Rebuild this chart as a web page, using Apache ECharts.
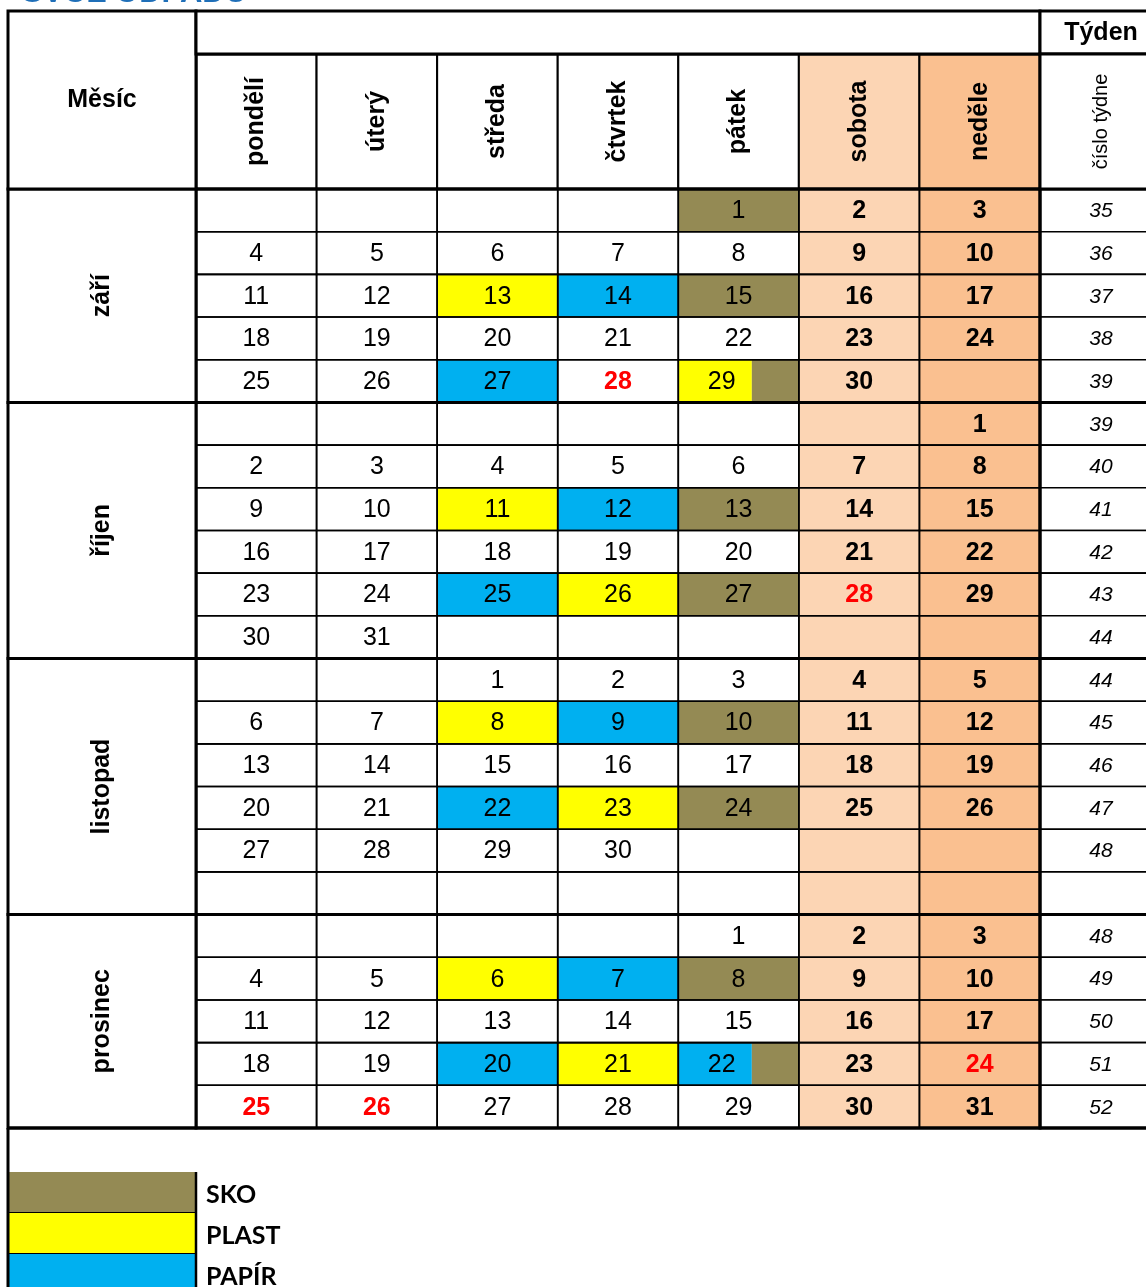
<!DOCTYPE html>
<html><head><meta charset="utf-8">
<script src="https://cdn.jsdelivr.net/npm/echarts@6/dist/echarts.min.js"></script>
<style>html,body{margin:0;padding:0;background:#fff}#c{width:1146px;height:1287px}</style>
</head><body><div id="c"></div>
<script>
// ---------- DATA ----------
const weekdays = ['pondělí','úterý','středa','čtvrtek','pátek','sobota','neděle'];
const monthNames = ['září','říjen','listopad','prosinec'];
const monthRowCounts = [5,6,6,5];
const calendarRows = [
  ['','','','',1,2,3],
  [4,5,6,7,8,9,10],
  [11,12,13,14,15,16,17],
  [18,19,20,21,22,23,24],
  [25,26,27,28,29,30,''],
  ['','','','','','',1],
  [2,3,4,5,6,7,8],
  [9,10,11,12,13,14,15],
  [16,17,18,19,20,21,22],
  [23,24,25,26,27,28,29],
  [30,31,'','','','',''],
  ['','',1,2,3,4,5],
  [6,7,8,9,10,11,12],
  [13,14,15,16,17,18,19],
  [20,21,22,23,24,25,26],
  [27,28,29,30,'','',''],
  ['','','','','','',''],
  ['','','','',1,2,3],
  [4,5,6,7,8,9,10],
  [11,12,13,14,15,16,17],
  [18,19,20,21,22,23,24],
  [25,26,27,28,29,30,31]
];
const weekNumbers = [35,36,37,38,39, 39,40,41,42,43,44, 44,45,46,47,48,'', 48,49,50,51,52];
const wasteTypes = ['SKO','PLAST','PAPÍR'];
const pickupsSep = [[1,'SKO'],[13,'PLAST'],[14,'PAPÍR'],[15,'SKO'],[27,'PAPÍR'],[29,'PLAST','SKO']];
const pickupsOct = [[11,'PLAST'],[12,'PAPÍR'],[13,'SKO'],[25,'PAPÍR'],[26,'PLAST'],[27,'SKO']];
const pickupsNov = [[8,'PLAST'],[9,'PAPÍR'],[10,'SKO'],[22,'PAPÍR'],[23,'PLAST'],[24,'SKO']];
const pickupsDec = [[6,'PLAST'],[7,'PAPÍR'],[8,'SKO'],[20,'PAPÍR'],[21,'PLAST'],[22,'PAPÍR','SKO']];
const holidays = [[0,28],[1,28],[3,24],[3,25],[3,26]]; // [month index, day]
const titleText = 'SVOZ ODPADU';

// ---------- STYLE ----------
const wasteColors = {'SKO':'#948A54','PLAST':'#FFFF00','PAPÍR':'#00B0F0'};
const weekendBg = ['#FFFFFF','#FFFFFF','#FFFFFF','#FFFFFF','#FFFFFF','#FCD5B4','#FAC090'];
const FONT = 'Liberation Sans';
const THICK = 3, THIN = 1.6;

// ---------- BUILD ----------
const pickupsByMonth = [pickupsSep, pickupsOct, pickupsNov, pickupsDec];
const monthStart = [];
{ let s = 0; monthRowCounts.forEach(n => { monthStart.push(s); s += n; }); }
const rowMonth = [];
monthRowCounts.forEach((n, m) => { for (let i = 0; i < n; i++) rowMonth.push(m); });
const cells = [], cellInfo = [];
calendarRows.forEach((row, r) => {
  row.forEach((day, c) => {
    const m = rowMonth[r];
    let types = [];
    if (day !== '') {
      const p = pickupsByMonth[m].find(x => x[0] === day);
      if (p) types = p.slice(1);
    }
    const red = day !== '' && holidays.some(h => h[0] === m && h[1] === day);
    cells.push([c, r]);
    cellInfo.push({day, types, red, weekend: c >= 5});
  });
});
const monthData = monthNames.map((n, m) => [0, monthStart[m], monthStart[m] + monthRowCounts[m] - 1]);
const rowCats = calendarRows.map((_, i) => 'r' + i);

function box(api, col, row) {
  const c = api.coord([col, row]); const s = api.size([1, 1]);
  return {x: c[0] - s[0] / 2, y: c[1] - s[1] / 2, w: s[0], h: s[1], cx: c[0], cy: c[1]};
}

const L = 8, MX = 196, DX1 = 1040, WX1 = 1162, T = 11, H1 = 54, H2 = 189, B = 1128;
const WW = WX1 - DX1;
const LEG_T = 1172, LEG_H = 41, VIEW_H = 1287;

const hiddenCat = (data, gi, inverse) => ({type:'category', data, gridIndex: gi, show:false, inverse: !!inverse});

const option = {
  animation: false,
  textStyle: {fontFamily: FONT},
  grid: [
    {left: MX, top: H1, width: DX1 - MX, height: H2 - H1},          // 0 header weekdays
    {left: MX, top: H2, width: DX1 - MX, height: B - H2},           // 1 days
    {left: L, top: H2, width: MX - L, height: B - H2},              // 2 months
    {left: DX1, top: H2, width: 1146 - DX1, height: B - H2},        // 3 weeks
    {left: L, top: LEG_T, width: MX - L, height: VIEW_H - LEG_T}    // 4 legend
  ],
  xAxis: [
    hiddenCat(weekdays, 0), hiddenCat(weekdays, 1), hiddenCat(['m'], 2),
    hiddenCat(['w'], 3), hiddenCat(['l'], 4)
  ],
  yAxis: [
    hiddenCat(['h'], 0, true), hiddenCat(rowCats, 1, true), hiddenCat(rowCats, 2, true),
    hiddenCat(rowCats, 3, true),
    {type:'value', gridIndex: 4, show:false, inverse:true, min: 0, max: (VIEW_H - LEG_T) / LEG_H}
  ],
  graphic: [
    {type:'text', z: 6, x: 22, y: 9, style:{text: titleText, font:'bold 31px ' + FONT, fill:'#1F6FB8', align:'left', verticalAlign:'bottom'}},
    {type:'rect', z: 5, shape:{x:L, y:T, width:MX-L, height:H2-T}, style:{fill:'#fff', stroke:'#000', lineWidth:THICK}},
    {type:'text', z: 6, x:(L+MX)/2, y:(T+H2)/2, style:{text:'Měsíc', font:'bold 25px ' + FONT, fill:'#000', align:'center', verticalAlign:'middle'}},
    {type:'rect', z: 5, shape:{x:MX, y:T, width:DX1-MX, height:H1-T}, style:{fill:'#fff', stroke:'#000', lineWidth:THICK}},
    {type:'rect', z: 5, shape:{x:DX1, y:T, width:WW, height:H1-T}, style:{fill:'#fff', stroke:'#000', lineWidth:THICK}},
    {type:'text', z: 6, x:(DX1+WX1)/2, y:(T+H1)/2 + 1, style:{text:'Týden', font:'bold 25px ' + FONT, fill:'#000', align:'center', verticalAlign:'middle'}},
    {type:'rect', z: 5, shape:{x:DX1, y:H1, width:WW, height:H2-H1}, style:{fill:'#fff', stroke:'#000', lineWidth:THICK}},
    {type:'text', z: 6, x:(DX1+WX1)/2, y:(H1+H2)/2, rotation: Math.PI/2, style:{text:'číslo týdne', font:'20px ' + FONT, fill:'#000', align:'center', verticalAlign:'middle'}},
    {type:'line', z: 5, shape:{x1:L, y1:B, x2:L, y2:1300}, style:{stroke:'#000', lineWidth:THICK}},
    {type:'line', z: 5, shape:{x1:L, y1:B, x2:1146, y2:B}, style:{stroke:'#000', lineWidth:THICK}}
  ],
  series: [
    { // header weekdays
      type:'custom', xAxisIndex:0, yAxisIndex:0, z: 2,
      data: weekdays.map((d, i) => [i, 0]),
      renderItem: (p, api) => {
        const b = box(api, api.value(0), 0);
        return {type:'group', children:[
          {type:'rect', shape:{x:b.x, y:b.y, width:b.w, height:b.h}, style:{fill: weekendBg[p.dataIndex], stroke:'#000', lineWidth:2}},
          {type:'text', x:b.cx, y:b.cy, rotation: Math.PI/2, style:{text: weekdays[p.dataIndex], font:'bold 25px ' + FONT, fill:'#000', align:'center', verticalAlign:'middle'}}
        ]};
      }
    },
    { // header outline
      type:'custom', xAxisIndex:0, yAxisIndex:0, z: 3, data: [[0, 0]],
      renderItem: (p, api) => {
        const a = box(api, 0, 0), z = box(api, 6, 0);
        return {type:'rect', shape:{x:a.x, y:a.y, width:z.x + z.w - a.x, height:a.h}, style:{fill:null, stroke:'#000', lineWidth:THICK}};
      }
    },
    { // day cell fills + numbers
      type:'custom', xAxisIndex:1, yAxisIndex:1, z: 2, data: cells,
      renderItem: (p, api) => {
        const b = box(api, api.value(0), api.value(1));
        const info = cellInfo[p.dataIndex];
        const ch = [{type:'rect', shape:{x:b.x, y:b.y, width:b.w, height:b.h}, style:{fill: weekendBg[api.value(0)]}}];
        let tx = b.cx;
        if (info.types.length === 1) {
          ch.push({type:'rect', shape:{x:b.x, y:b.y, width:b.w, height:b.h}, style:{fill: wasteColors[info.types[0]]}});
        } else if (info.types.length === 2) {
          const w1 = b.w * 0.61;
          ch.push({type:'rect', shape:{x:b.x, y:b.y, width:w1, height:b.h}, style:{fill: wasteColors[info.types[0]]}});
          ch.push({type:'rect', shape:{x:b.x + w1, y:b.y, width:b.w - w1, height:b.h}, style:{fill: wasteColors[info.types[1]]}});
          tx = b.x + b.w * 0.36;
        }
        if (info.day !== '') {
          const bold = info.weekend || info.red;
          ch.push({type:'text', x:tx, y:b.cy + 1, style:{text: String(info.day), font:(bold ? 'bold ' : '') + '25px ' + FONT, fill: info.red ? '#FF0000' : '#000', align:'center', verticalAlign:'middle'}});
        }
        return {type:'group', children: ch};
      }
    },
    { // day cell borders
      type:'custom', xAxisIndex:1, yAxisIndex:1, z: 3, data: cells,
      renderItem: (p, api) => {
        const b = box(api, api.value(0), api.value(1));
        return {type:'rect', shape:{x:b.x, y:b.y, width:b.w, height:b.h}, style:{fill:null, stroke:'#000', lineWidth:THIN}};
      }
    },
    { // month group outlines over days
      type:'custom', xAxisIndex:1, yAxisIndex:1, z: 4, data: monthData,
      renderItem: (p, api) => {
        const a = box(api, 0, api.value(1)), z = box(api, 6, api.value(2));
        return {type:'rect', shape:{x:a.x, y:a.y, width:z.x + z.w - a.x, height:z.y + z.h - a.y}, style:{fill:null, stroke:'#000', lineWidth:THICK}};
      }
    },
    { // month labels column
      type:'custom', xAxisIndex:2, yAxisIndex:2, z: 4, data: monthData,
      renderItem: (p, api) => {
        const a = box(api, 0, api.value(1)), z = box(api, 0, api.value(2));
        const h = z.y + z.h - a.y;
        return {type:'group', children:[
          {type:'rect', shape:{x:a.x, y:a.y, width:a.w, height:h}, style:{fill:'#fff', stroke:'#000', lineWidth:THICK}},
          {type:'text', x:a.cx, y:a.y + h / 2, rotation: Math.PI/2, style:{text: monthNames[p.dataIndex], font:'bold 25px ' + FONT, fill:'#000', align:'center', verticalAlign:'middle'}}
        ]};
      }
    },
    { // week numbers
      type:'custom', xAxisIndex:3, yAxisIndex:3, z: 3, data: weekNumbers.map((w, i) => [0, i]),
      renderItem: (p, api) => {
        const b = box(api, 0, api.value(1));
        const ch = [{type:'rect', shape:{x:b.x, y:b.y, width:WW, height:b.h}, style:{fill:'#fff', stroke:'#000', lineWidth:THIN}}];
        const w = weekNumbers[p.dataIndex];
        if (w !== '') ch.push({type:'text', x:b.x + WW / 2, y:b.cy + 1, style:{text:String(w), font:'italic 21px ' + FONT, fill:'#000', align:'center', verticalAlign:'middle'}});
        return {type:'group', children: ch};
      }
    },
    { // week group outlines
      type:'custom', xAxisIndex:3, yAxisIndex:3, z: 4, data: monthData,
      renderItem: (p, api) => {
        const a = box(api, 0, api.value(1)), z = box(api, 0, api.value(2));
        return {type:'rect', shape:{x:a.x, y:a.y, width:WW, height:z.y + z.h - a.y}, style:{fill:null, stroke:'#000', lineWidth:THICK}};
      }
    },
    { // legend
      type:'custom', xAxisIndex:4, yAxisIndex:4, z: 3, data: wasteTypes.map((t, i) => [0, i + 0.5]),
      renderItem: (p, api) => {
        const c = api.coord([0, api.value(1)]);
        const s = api.size([1, 1]);
        const b = {x: c[0] - s[0] / 2, y: c[1] - s[1] / 2, w: s[0], h: s[1], cy: c[1]};
        const t = wasteTypes[p.dataIndex];
        return {type:'group', children:[
          {type:'rect', shape:{x:b.x, y:b.y, width:b.w, height:b.h}, style:{fill: wasteColors[t]}},
          {type:'line', shape:{x1:b.x, y1:b.y + b.h, x2:b.x + b.w, y2:b.y + b.h}, style:{stroke:'#000', lineWidth:2}},
          {type:'line', shape:{x1:b.x + b.w, y1:b.y, x2:b.x + b.w, y2:b.y + b.h}, style:{stroke:'#000', lineWidth:2.5}},
          {type:'text', x:b.x + b.w + 10, y:b.cy + 2, style:{text: t, font:'bold 25px Lato', fill:'#000', align:'left', verticalAlign:'middle'}}
        ]};
      }
    }
  ]
};
const chart = echarts.init(document.getElementById('c'), null, {renderer:'canvas'});
chart.setOption(option);
</script></body></html>
